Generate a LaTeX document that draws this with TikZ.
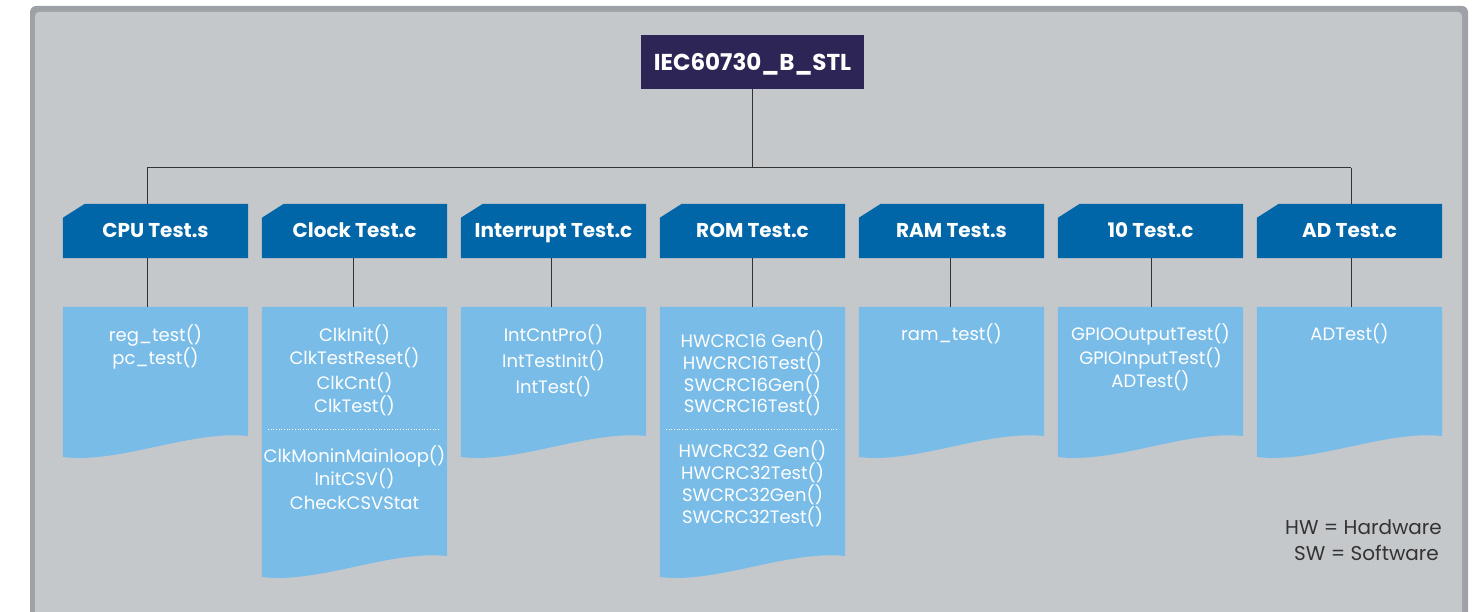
\documentclass[tikz,border=0pt]{standalone}
\usepackage{fontspec}
\setmainfont{Poppins}
\usetikzlibrary{calc}
\definecolor{frameb}{HTML}{9EA1A5}
\definecolor{framef}{HTML}{C5C8CB}
\definecolor{navy}{HTML}{2C2555}
\definecolor{hblue}{HTML}{0066A8}
\definecolor{lblue}{HTML}{79BCE8}
\definecolor{lin}{HTML}{333333}
\definecolor{legtxt}{HTML}{333333}
\newcommand\hdrshape[1]{\fill[hblue] (#1.south west) -- ($(#1.north west)+(0,14)$) -- ($(#1.north west)+(22,0)$) -- (#1.north east) -- (#1.south east) -- cycle;}
% doc shape: node name, bottom-left y, bottom-right y
\newcommand\docshape[3]{\fill[lblue] (#1.north west) -- (#1.north east) -- (#1.north east |- 0,#3) .. controls ($(#1.north east |- 0,#3)+(-58,-6)$) and ($(#1.north west |- 0,#2)+(57,7)$) .. (#1.north west |- 0,#2) -- cycle;}
\begin{document}
\begin{tikzpicture}[x=1pt,y=-1pt,
  conn/.style={draw=lin,line width=1pt},
  rootbox/.style={fill=navy,text=white,minimum width=223,minimum height=54,inner sep=0,
    font=\fontsize{23}{28}\selectfont\bfseries,text height=17,text depth=0},
  hdrbox/.style={minimum width=185,minimum height=54,inner sep=0,text=white,
    font=\fontsize{20}{24}\selectfont\bfseries,text height=16,text depth=2},
  docbox/.style={minimum width=185,minimum height=20,inner sep=0,anchor=north},
  doctext/.style={text=white,align=center,inner sep=0,anchor=base,font=\fontsize{18}{24}\selectfont},
  legend/.style={text=legtxt,inner sep=0,anchor=base east,font=\fontsize{20}{24}\selectfont},
  sep/.style={draw=white,line width=0.7pt,dotted}]
\useasboundingbox (0,0) rectangle (1484,612);
\clip (0,0) rectangle (1484,612);
\fill[frameb,rounded corners=6] (30,6) rectangle (1468,660);
\fill[framef,rounded corners=4] (35,12) rectangle (1462,660);

\node[rootbox] (root) at (752.5,62) {IEC60730\_B\_STL};

\foreach \i/\cx in {1/155.5,2/354.5,3/553.5,4/752.5,5/951.5,6/1150.5,7/1349.5}{
  \node[hdrbox] (h\i) at (\cx,231) {};
  \node[docbox] (d\i) at (\cx,307) {};
}
\foreach \i in {1,...,7}{\hdrshape{h\i}}
\docshape{d1}{457}{436}
\docshape{d2}{577}{556}
\docshape{d3}{457}{436}
\docshape{d4}{577}{556}
\docshape{d5}{457}{436}
\docshape{d6}{457}{436}
\docshape{d7}{457}{436}

\node[hdrbox] (ht1) at (h1) {CPU Test.s};
\node[hdrbox] (ht2) at (h2) {Clock Test.c};
\node[hdrbox] (ht3) at (h3) {Interrupt Test.c};
\node[hdrbox] (ht4) at (h4) {ROM Test.c};
\node[hdrbox] (ht5) at (h5) {RAM Test.s};
\node[hdrbox] (ht6) at (h6) {10 Test.c};
\node[hdrbox] (ht7) at (h7) {AD Test.c};

% connectors
\coordinate (busL) at (147,168);
\coordinate (busR) at (1351,168);
\draw[conn] (busL) -- (busR);
\draw[conn] (root.south) -- (root.south |- busL);
\draw[conn] (busL) -- (busL |- h1.north);
\draw[conn] ($(h1.south)+(-8.5,0)$) -- ($(d1.north)+(-8.5,0)$);
\foreach \i/\dx in {2/-1.5,3/-2,4/0,5/-1,6/0.5}{
  \draw[conn] ($(h\i.north)+(\dx,0)$ |- busL) -- ($(h\i.north)+(\dx,0)$);
  \draw[conn] ($(h\i.south)+(\dx,0)$) -- ($(d\i.north)+(\dx,0)$);
}
\draw[conn] (busR) -- (busR |- h7.north);
\draw[conn] (busR |- h7.south) -- (busR |- d7.north);

% doc texts (anchor = baseline of last line)
\node[doctext] (t1) at ($(d1.north)+(0,58)$) {reg\_test()\\pc\_test()};
\node[doctext] (t2a) at ($(d2.north)+(0,106)$) {ClkInit()\\ClkTestReset()\\ClkCnt()\\ClkTest()};
\draw[sep] ($(d2.north west)+(6,122)$) -- ($(d2.north east)+(-8,122)$);
\node[doctext,font=\fontsize{18}{23.5}\selectfont] (t2b) at ($(d2.north)+(0,202)$) {ClkMoninMainloop()\\InitCSV()\\CheckCSVStat};
\node[doctext,font=\fontsize{18}{26.5}\selectfont] (t3) at ($(d3.north)+(0,87)$) {IntCntPro()\\IntTestInit()\\IntTest()};
\node[doctext,font=\fontsize{18}{21.8}\selectfont] (t4a) at ($(d4.north)+(0,106)$) {HWCRC16 Gen()\\HWCRC16Test()\\SWCRC16Gen()\\SWCRC16Test()};
\draw[sep] ($(d4.north west)+(6,122)$) -- ($(d4.north east)+(-8,122)$);
\node[doctext,font=\fontsize{18}{22}\selectfont] (t4b) at ($(d4.north)+(0,216)$) {HWCRC32 Gen()\\HWCRC32Test()\\SWCRC32Gen()\\SWCRC32Test()};
\node[doctext] (t5) at ($(d5.north)+(0,34)$) {ram\_test()};
\node[doctext,font=\fontsize{18}{23.7}\selectfont] (t6) at ($(d6.north)+(0,81)$) {GPIOOutputTest()\\GPIOInputTest()\\ADTest()};
\node[doctext] (t7) at ($(d7.north)+(0,34)$) {ADTest()};

% legend
\node[legend] (lg1) at (1442,534) {HW = Hardware};
\node[legend] (lg2) at (1439,560) {SW = Software};
\end{tikzpicture}
\end{document}
